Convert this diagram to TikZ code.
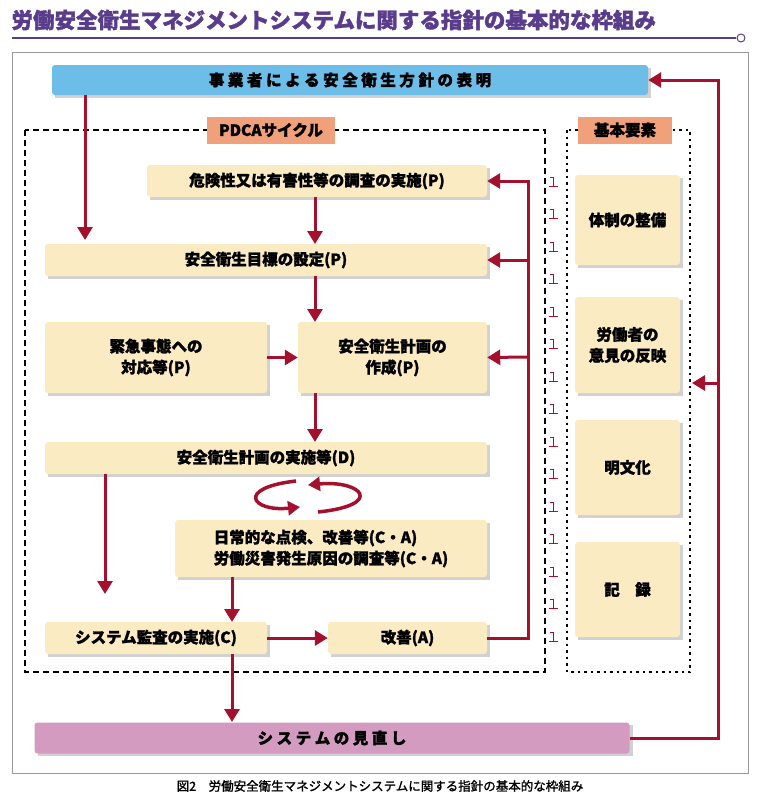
\documentclass[tikz,border=0pt]{standalone}
\usepackage{fontspec}
\setmainfont{Noto Sans CJK JP}[FakeBold=1.5]
\usetikzlibrary{arrows.meta}
\definecolor{cream}{HTML}{FBEBC2}
\definecolor{arrowred}{HTML}{A3112E}
\definecolor{skyblue}{HTML}{6CBDE8}
\definecolor{pinkbox}{HTML}{D49BC0}
\definecolor{orangetag}{HTML}{F0A07A}
\definecolor{titlepurple}{HTML}{5A3C8C}
\newcommand{\panel}[5]{\fill[black!18] (#1+3,#2+3) rectangle (#3+3,#4+3); \node[box,minimum width=#3-#1,minimum height=#4-#2] (#5) at ({(#1+#3)/2},{(#2+#4)/2}) {};}
\tikzset{
  box/.style={fill=cream,rounded corners=3pt,inner sep=0pt,align=center},
  lbl/.style={font=\fontsize{15.5}{21}\selectfont\bfseries,align=center},
  flow/.style={draw=arrowred,line width=3pt,-{Triangle[length=13pt,width=15pt]}},
  link/.style={draw=arrowred,line width=3pt}
}
\begin{document}
\begin{tikzpicture}[x=1pt,y=-1pt]
    \useasboundingbox (0,0) rectangle (760,803);
    % title
    \node[anchor=west,text=titlepurple,font=\fontsize{21.5}{24}\selectfont\bfseries] (title) at (8,20) {労働安全衛生マネジメントシステムに関する指針の基本的な枠組み};
    \draw[titlepurple,line width=1.2pt] (12,38) -- (736,38);
    \draw[titlepurple,fill=white,line width=1pt] (741,38) circle (4);
    \draw[black!40] (12,52) rectangle (748,773);
    % frames
    \draw[line width=1.5pt,dash pattern=on 6pt off 4pt] (25,130) rectangle (545,672);
    \draw[line width=2.5pt,dash pattern=on 2.5pt off 4pt] (567,130) rectangle (690,672);
    \node[fill=orangetag,minimum width=128,minimum height=27,inner sep=0pt,lbl] (pdca) at (271,130) {PDCAサイクル};
    \node[fill=orangetag,minimum width=94,minimum height=27,inner sep=0pt,lbl] (kihon) at (625,130) {基本要素};
    % boxes
    \fill[black!18] (55,68) rectangle (651,98);
    \node[fill=skyblue,rounded corners=3pt,minimum width=596,minimum height=30,inner sep=0pt,lbl] (policy) at (350,80) {事\ 業\ 者\ に\ よ\ る\ 安\ 全\ 衛\ 生\ 方\ 針\ の\ 表\ 明};
    \panel{147}{165}{487}{197}{risk}
    \node at (risk) [lbl] {危険性又は有害性等の調査の実施(P)};
    \panel{45}{244}{487}{276}{goal}
    \node at (goal) [lbl] {安全衛生目標の設定(P)};
    \panel{45}{322}{267}{393}{emerg}
    \node at (emerg) [lbl] {緊急事態への\\対応等(P)};
    \panel{298}{322}{487}{393}{plan}
    \node at (plan) [lbl] {安全衛生計画の\\作成(P)};
    \panel{45}{442}{487}{474}{exec}
    \node at (exec) [lbl] {安全衛生計画の実施等(D)};
    \panel{175}{520}{487}{577}{daily}
    \node at (daily) [lbl,align=left] {日常的な点検、改善等(C・A)\\労働災害発生原因の調査等(C・A)};
    \panel{45}{622}{267}{654}{audit}
    \node at (audit) [lbl] {システム監査の実施(C)};
    \panel{328}{622}{487}{654}{improve}
    \node at (improve) [lbl] {改善(A)};
    \panel{575}{175}{680}{265}{taisei}
    \node at (taisei) [lbl] {体制の整備};
    \panel{575}{297}{680}{393}{iken}
    \node at (iken) [lbl] {労働者の\\意見の反映};
    \panel{575}{420}{680}{515}{meibun}
    \node at (meibun) [lbl] {明文化};
    \panel{575}{542}{680}{637}{kiroku}
    \node at (kiroku) [lbl] {記\quad 録};
    \fill[black!18] (38,725) rectangle (633,756);
    \node[fill=pinkbox,rounded corners=3pt,minimum width=595,minimum height=31,inner sep=0pt,lbl] (review) at (332,738) {シ\ ス\ テ\ ム\ の\ 見\ 直\ し};
    % arrows
    \draw[flow] (85,95) -- (85,240);
    \draw[flow] (315,197) -- (315,244);
    \draw[flow] (315,276) -- (315,322);
    \draw[flow] (emerg) -- (plan);
    \draw[flow] (315,393) -- (315,442);
    \draw[flow] (105,474) -- (105,594);
    \draw[flow] (232,577) -- (232,622);
    \draw[flow] (audit) -- (improve);
    \draw[flow] (232,654) -- (232,722);
    \draw[link] (improve.east) -- (528,638) -- (528,181);
    \draw[flow] (529.5,181) -- (risk.east);
    \draw[flow] (528,260) -- (goal.east);
    \draw[flow] (528,357) -- (plan.east);
    \draw[link] (review.east) -- (718,738) -- (718,80);
    \draw[flow] (719.5,80) -- (policy.east);
    \draw[flow] (718,383) -- (692,383);
    % cycle
    \draw[arrowred,line width=3.5pt,-{Triangle[length=12pt,width=14pt]}] (296,481) .. controls (235,488) and (252,512) .. (300,507);
    \draw[arrowred,line width=3.5pt,-{Triangle[length=12pt,width=14pt]}] (318,512) .. controls (385,505) and (362,480) .. (308,485);
    % marks
    \foreach \k in {0,...,14}
      \draw[arrowred,line width=1pt] (550,{182+32.5*\k-5}) -- (553,{182+32.5*\k-5}) -- (553,{182+32.5*\k+4}) (549,{182+32.5*\k+4}) -- (558,{182+32.5*\k+4});
    % caption
    \node[font=\fontsize{12.5}{14}\selectfont] (caption) at (380,786) {図2\quad 労働安全衛生マネジメントシステムに関する指針の基本的な枠組み};
\end{tikzpicture}
\end{document}
